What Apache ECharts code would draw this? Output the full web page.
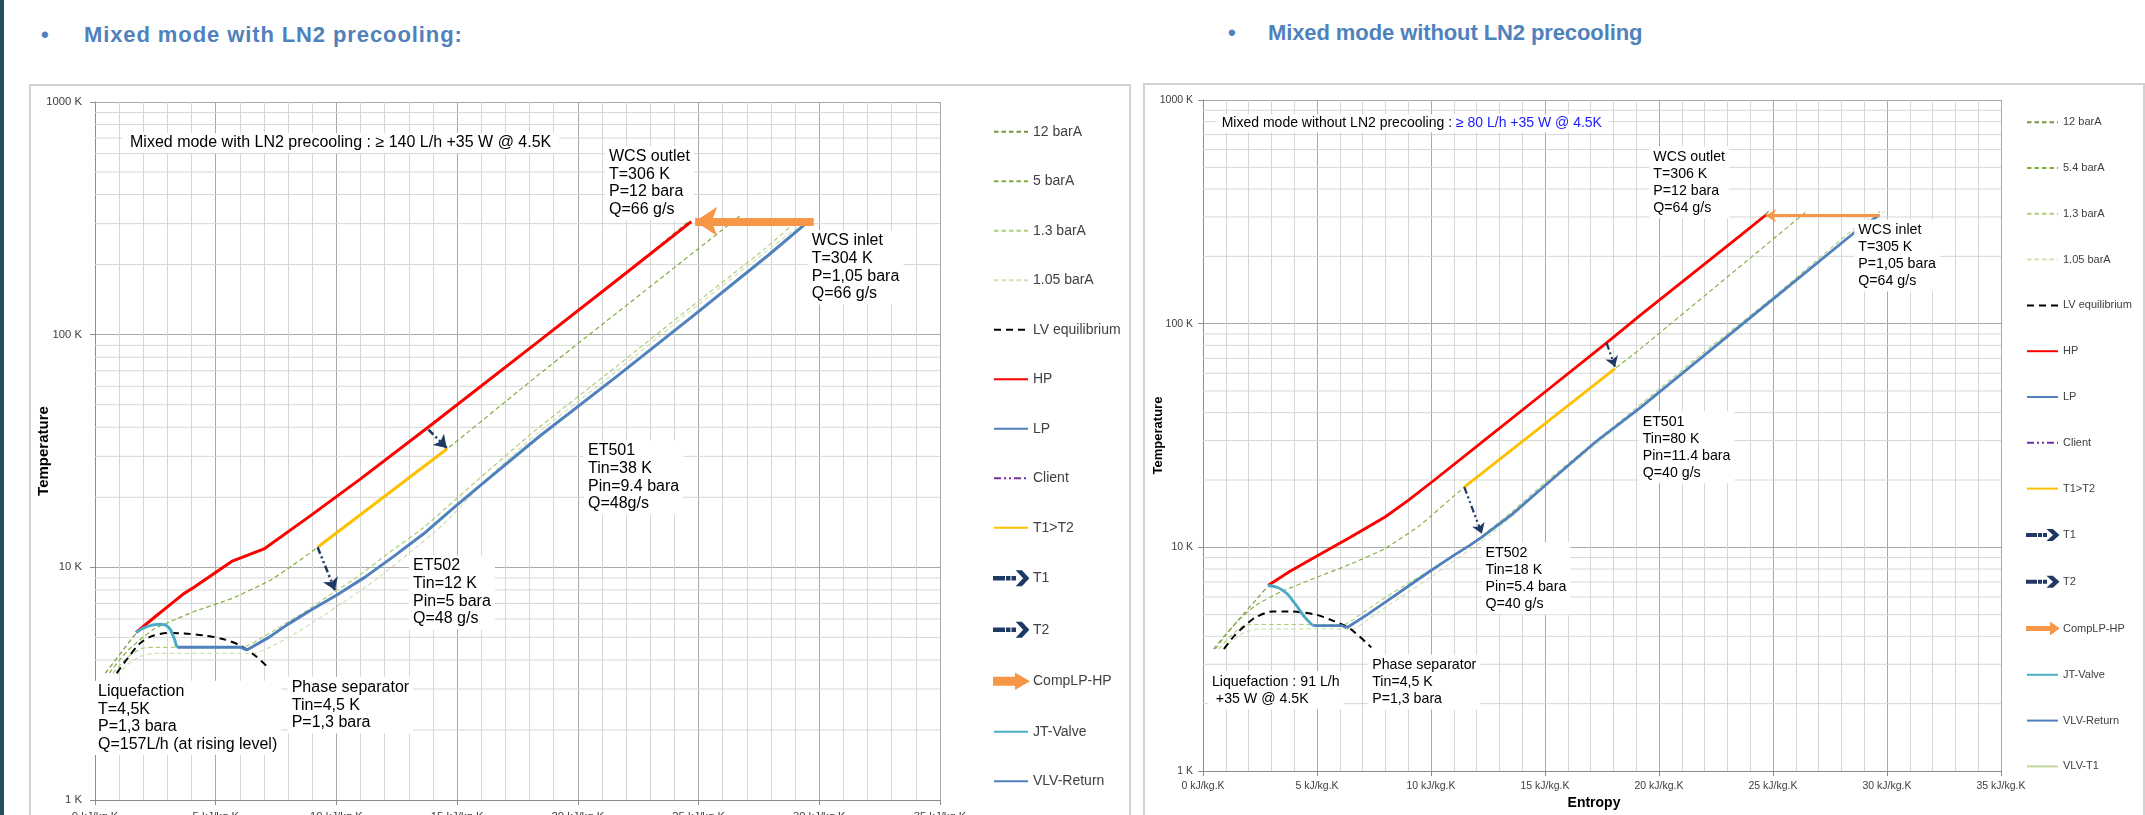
<!DOCTYPE html>
<html>
<head>
<meta charset="utf-8">
<title>Mixed mode T-s diagrams</title>
<script src="https://cdn.jsdelivr.net/npm/echarts/dist/echarts.min.js"></script>
<style>
  html, body { margin: 0; padding: 0; width: 2145px; height: 815px; overflow: hidden; background: #fff;
               font-family: "Liberation Sans", Arial, sans-serif; }
  .edge { position: absolute; left: 0; top: 0; width: 4px; height: 815px; background: #24505c; }
  .box { position: absolute; border: 2px solid #d2d2d2; box-sizing: border-box; }
  .head { position: absolute; color: #4f81bd; font-weight: bold; font-size: 22px; line-height: 26px;
          white-space: nowrap; }
  .chart { position: absolute; }
</style>
</head>
<body>
<div class="edge"></div>
<div class="head" style="left:41px;top:22px">•</div>
<div class="head" style="left:84px;top:22px;letter-spacing:0.9px">Mixed mode with LN2 precooling:</div>
<div class="head" style="left:1228px;top:20px">•</div>
<div class="head" style="left:1268px;top:20px;letter-spacing:-0.1px">Mixed mode without LN2 precooling</div>

<div class="box" style="left:29px;top:84px;width:1102px;height:800px"></div>
<div class="box" style="left:1143px;top:83px;width:1002px;height:800px"></div>
<div id="chartL" class="chart" style="left:29px;top:84px;width:1101px;height:760px"></div>
<div id="chartR" class="chart" style="left:1143px;top:83px;width:1001px;height:760px"></div>

<script>
// ---------- axis ticks / units ----------
const X_MIN = 0, X_MAX = 35, X_STEP = 5;
const T_MIN = 1, T_MAX = 1000;
const X_UNIT = ' kJ/kg.K';
const T_UNIT = ' K';
const MINOR_T = [2, 3, 4, 5, 6, 7, 8, 9, 20, 30, 40, 50, 60, 70, 80, 90, 200, 300, 400, 500, 600, 700, 800, 900];

// ---------- with LN2 precooling : [entropy kJ/kg.K, temperature K] ----------
const L_P12 = [[0.43,3.51],[1.06,4.27],[1.70,5.2],[2.49,6.1],[3.68,7.7],[5.66,10.6],[7.0,12.0],[8.83,16.4],[11.0,24.0],[14.0,41.5],[18.4,94],[21.6,171],[24.86,323]];
const L_P5 = [[0.59,3.51],[1.0,3.98],[1.38,4.41],[2.01,5.03],[2.49,5.47],[3.3,5.95],[4.07,6.44],[5.66,7.34],[7.24,8.78],[8.19,10.2],[9.22,12.2],[14.6,32.4],[18.43,68],[26.7,323]];
const L_P13 = [[0.74,3.51],[1.2,3.95],[1.54,4.27],[2.0,4.5],[2.4,4.53],[6.1,4.53],[6.8,4.9],[7.6,5.5],[8.6,6.35],[9.6,7.45],[10.8,9.0],[12.2,11.6],[13.6,14.8],[16.0,24.5],[18.2,38.5],[21.3,69],[24.5,127],[27.7,232],[29.3,323]];
const L_P105 = [[0.9,3.45],[1.4,3.85],[1.85,4.14],[2.3,4.25],[2.6,4.27],[6.6,4.27],[7.4,4.62],[8.3,5.2],[9.3,6.05],[10.4,7.2],[11.6,8.8],[13.0,11.5],[14.4,15.2],[16.2,23.8],[18.3,37.5],[21.4,67],[24.6,125],[27.8,228],[29.7,323]];
const L_LV = [[0.9,3.51],[1.38,4.1],[1.85,4.7],[2.33,5.05],[3.0,5.22],[3.7,5.2],[4.5,5.1],[5.3,4.92],[6.0,4.62],[6.6,4.2],[7.16,3.72]];
const L_HP = [[1.70,5.25],[2.49,6.13],[3.10,6.9],[3.68,7.71],[4.07,8.17],[5.66,10.6],[7.0,12.0],[8.83,16.4],[11.0,24.0],[14.0,41.5],[18.4,94],[21.6,171],[24.7,306]];
const L_LP = [[6.29,4.41],[7.2,5.0],[8.0,5.7],[9.0,6.6],[10.0,7.59],[11.2,9.1],[12.4,11.2],[13.6,13.9],[14.9,18.2],[16.2,23.6],[18.4,36.5],[21.6,66],[24.8,121],[27.9,220],[29.5,304]];
const L_T1T2 = [[9.22,12.2],[14.6,32.4]];
const L_T1 = [[13.81,39.1],[14.57,32.6]];
const L_T2 = [[9.22,12.2],[9.94,7.97]];
const L_COMP = [[29.77,307],[24.86,307]];
const L_JT = [[1.70,5.25],[2.0,5.48],[2.4,5.66],[2.73,5.70],[2.95,5.62],[3.12,5.4],[3.28,4.95],[3.36,4.65],[3.41,4.53]];
const L_VLV = [[3.41,4.53],[6.05,4.53],[6.29,4.41]];

// ---------- without LN2 precooling ----------
const R_P12 = [[0.46,3.51],[1.08,4.17],[1.85,5.13],[2.4,5.95],[2.85,6.69],[3.8,7.75],[4.92,9.0],[6.46,11.0],[8.0,13.6],[10.15,19.9],[15.0,49.5],[19.17,109],[22.09,188],[24.82,318]];
const R_P54 = [[0.54,3.51],[1.0,4.05],[1.54,4.7],[2.31,5.5],[3.38,6.3],[4.92,7.3],[6.46,8.4],[8.0,9.9],[9.54,12.6],[11.46,18.6],[18.07,63],[19.17,77],[26.48,318]];
const R_P13 = [[0.69,3.51],[1.38,4.17],[1.85,4.5],[2.3,4.52],[6.2,4.52],[7.0,5.1],[8.0,5.98],[9.0,6.9],[10.0,7.94],[12.0,10.8],[13.5,14.3],[15.0,19.5],[19.0,42],[22.0,75],[25.0,131],[28.4,258],[29.7,318]];
const R_P105 = [[0.85,3.51],[1.69,4.1],[2.31,4.3],[2.7,4.32],[6.6,4.32],[7.3,4.8],[8.0,5.4],[9.0,6.3],[10.0,7.36],[11.0,8.7],[12.2,10.6],[13.6,13.9],[15.2,19.6],[19.2,42],[22.1,74],[25.1,129],[28.6,257],[29.91,318]];
const R_LV = [[0.92,3.51],[1.38,4.03],[1.85,4.47],[2.31,4.87],[3.08,5.17],[3.69,5.17],[4.92,5.01],[5.69,4.7],[6.46,4.32],[7.38,3.57]];
const R_HP = [[2.85,6.75],[3.8,7.8],[4.92,9.05],[6.46,11.1],[8.0,13.7],[9.0,16.2],[10.15,20.0],[12.5,31],[15.0,49.5],[17.7,82],[19.17,109],[22.09,188],[23.55,247],[24.69,306]];
const R_LP = [[6.31,4.37],[7.2,5.0],[8.0,5.69],[9.0,6.7],[10.0,7.88],[11.0,9.2],[11.7,10.2],[12.23,11.1],[13.54,14.0],[15.23,19.8],[17.2,29.5],[19.17,42],[22.09,73.7],[25.01,129],[28.52,253],[29.6,303]];
const R_T1T2 = [[11.46,18.6],[18.07,63]];
const R_T1 = [[17.7,82],[18.07,64.2]];
const R_T2 = [[11.46,18.6],[12.23,11.5]];
const R_COMP = [[29.69,304],[24.69,304]];
const R_JT = [[2.85,6.75],[3.3,6.6],[3.69,6.2],[3.95,5.75],[4.15,5.4],[4.46,4.87],[4.77,4.52],[4.85,4.47]];
const R_VLV = [[4.85,4.47],[6.08,4.47],[6.31,4.37]];
const R_VLVT1 = [];
const CLIENT = [];

// ---------- styles ----------
const COL = {
  p12: '#76923c', p5: '#7fae3f', p13: '#afcd78', p105: '#d0e2b2', lv: '#000000',
  hp: '#ff0000', lp: '#4f81bd', client: '#7030a0', t12: '#ffc000', arrow: '#1f3864',
  comp: '#f79646', jt: '#4bacc6', vlv: '#4f81bd', vlvt1: '#c3d69b'
};
const DASH_S = [4.5, 3];
const DASH_LV = [7, 5];
const DASH_DOT2 = [7, 3, 2, 3, 2, 3];
const FONT = '"Liberation Sans", Arial, sans-serif';

function line(name, data, color, width, type, z, smooth) {
  return {
    type: 'line', name, data, z, smooth: smooth || false,
    showSymbol: false, symbol: 'none', silent: true, animation: false, clip: true,
    lineStyle: { color, width, type }, itemStyle: { color }
  };
}
function arrow(name, data, color, width, type, headSize, z) {
  return {
    type: 'lines', name, coordinateSystem: 'cartesian2d', polyline: false, z,
    silent: true, animation: false,
    symbol: ['none', 'arrow'], symbolSize: headSize,
    data: [{ coords: data }],
    lineStyle: { color, width, type, opacity: 1, curveness: 0 }, itemStyle: { color }
  };
}
function minorGrid() {
  return {
    type: 'custom', name: 'minor-grid', silent: true, animation: false, z: 1,
    data: MINOR_T.map(v => [X_MIN, v]),
    renderItem: (params, api) => {
      const a = api.coord([X_MIN, api.value(1)]);
      const b = api.coord([X_MAX, api.value(1)]);
      return { type: 'line', shape: { x1: a[0], y1: a[1], x2: b[0], y2: b[1] },
               style: { stroke: '#d6d6d6', lineWidth: 1 } };
    }
  };
}
function note(left, top, text, size, lh, pad) {
  return {
    type: 'text', left, top, z: 100, silent: true,
    style: { text, font: size + 'px ' + FONT, fill: '#000', lineHeight: lh,
             backgroundColor: '#fff', padding: pad || [2, 4] }
  };
}
function iconItem(name, icon, color) {
  return { name, icon, itemStyle: { color, opacity: 1 } };
}

function buildOption(L) {
  return {
    animation: false,
    textStyle: { fontFamily: FONT },
    grid: { left: L.grid[0], top: L.grid[1], width: L.grid[2], height: L.grid[3],
            containLabel: false, outerBoundsMode: 'none' },
    xAxis: {
      type: 'value', min: X_MIN, max: X_MAX, interval: X_STEP,
      name: L.xName || '', nameLocation: 'middle', nameGap: L.xNameGap || 25, nameMoveOverlap: false,
      nameTextStyle: { fontWeight: 'bold', fontSize: 14, color: '#000', padding: [0, 16, 0, 0] },
      axisLine: { show: true, onZero: false, lineStyle: { color: '#8c8c8c', width: 1 } },
      axisTick: { show: true, length: 5, lineStyle: { color: '#8c8c8c' } },
      axisLabel: { formatter: v => v + X_UNIT, fontSize: L.tickFont, color: '#404040', margin: L.xMargin },
      splitLine: { show: true, lineStyle: { color: '#a9a9a9', width: 1 } },
      minorTick: { show: false, splitNumber: 5 },
      minorSplitLine: { show: true, lineStyle: { color: '#d6d6d6', width: 1 } }
    },
    yAxis: {
      type: 'log', logBase: 10, min: T_MIN, max: T_MAX,
      name: 'Temperature', nameLocation: 'middle', nameRotate: 90, nameGap: L.yNameGap, nameMoveOverlap: false,
      nameTextStyle: { fontWeight: 'bold', fontSize: L.yNameFont, color: '#000' },
      axisLine: { show: true, lineStyle: { color: '#8c8c8c', width: 1 } },
      axisTick: { show: true, length: 5, lineStyle: { color: '#8c8c8c' } },
      axisLabel: { formatter: v => Math.round(v) + T_UNIT, fontSize: L.tickFont, color: '#404040', margin: L.yMargin },
      splitLine: { show: true, lineStyle: { color: '#a9a9a9', width: 1 } }
    },
    legend: {
      orient: 'vertical', left: L.legend[0], top: L.legend[1], padding: 0,
      itemWidth: L.legendIcon[0], itemHeight: L.legendIcon[1], itemGap: L.legendGap,
      selectedMode: false,
      itemStyle: { opacity: 0 },
      textStyle: { fontSize: L.legendFont, color: '#404040', lineHeight: L.legendIcon[1] },
      data: L.legendData
    },
    graphic: L.notes,
    series: L.series
  };
}

// ---------- with LN2 precooling ----------
const ICON_T_L = 'path://M0,5.8h10v2.4h-10z M13,5.8h2.5v2.4h-2.5z M18.5,5.8h2.5v2.4h-2.5z M24,0h3.5l6.5,7l-6.5,7h-3.5l6.5,-7z';
const ICON_C_L = 'path://M0,3.5h22v-3.5l12,7l-12,7v-3.5h-22z';
const layoutL = {
  grid: [66, 18, 845, 698], tickFont: 11.3, xMargin: 11, yMargin: 13,
  yNameGap: 44, yNameFont: 15,
  legend: [964, 40.7], legendIcon: [34, 14], legendGap: 35.5, legendFont: 14,
  legendData: [
    { name: '12 barA' }, { name: '5 barA' }, { name: '1.3 barA' }, { name: '1.05 barA' },
    { name: 'LV equilibrium' }, { name: 'HP' }, { name: 'LP' }, { name: 'Client' }, { name: 'T1>T2' },
    iconItem('T1', ICON_T_L, COL.arrow), iconItem('T2', ICON_T_L, COL.arrow),
    iconItem('CompLP-HP', ICON_C_L, COL.comp),
    { name: 'JT-Valve' }, { name: 'VLV-Return' }
  ],
  notes: [
    note(93, 49, 'Mixed mode with LN2 precooling : ≥ 140 L/h +35 W @ 4.5K', 16, 20, [0, 8]),
    note(576, 61.9, 'WCS outlet\nT=306 K\nP=12 bara\nQ=66 g/s', 16, 17.6),
    note(778.7, 146.2, 'WCS inlet\nT=304 K\nP=1,05 bara\nQ=66 g/s', 16, 17.6),
    note(555, 356.2, 'ET501\nTin=38 K\nPin=9.4 bara\nQ=48g/s', 16, 17.6),
    note(380, 471.2, 'ET502\nTin=12 K\nPin=5 bara\nQ=48 g/s', 16, 17.6),
    note(65, 596.7, 'Liquefaction\nT=4,5K\nP=1,3 bara\nQ=157L/h (at rising level)', 16, 17.6),
    note(258.7, 592.7, 'Phase separator\nTin=4,5 K\nP=1,3 bara', 16, 17.6)
  ],
  series: [
    minorGrid(),
    line('12 barA', L_P12, COL.p12, 1.2, DASH_S, 3, 0.15),
    line('5 barA', L_P5, COL.p5, 1.2, DASH_S, 3, 0.15),
    line('1.3 barA', L_P13, COL.p13, 1.2, DASH_S, 3, 0.15),
    line('1.05 barA', L_P105, COL.p105, 1.2, DASH_S, 3, 0.15),
    line('LV equilibrium', L_LV, COL.lv, 2, DASH_LV, 4, 0.3),
    line('HP', L_HP, COL.hp, 3, 'solid', 6),
    line('LP', L_LP, COL.lp, 3, 'solid', 6),
    line('Client', CLIENT, COL.client, 3, DASH_DOT2, 6),
    line('T1>T2', L_T1T2, COL.t12, 3, 'solid', 6),
    arrow('T1', L_T1, COL.arrow, 2.5, DASH_DOT2, 12, 8),
    arrow('T2', L_T2, COL.arrow, 2.5, DASH_DOT2, 12, 8),
    arrow('CompLP-HP', L_COMP, COL.comp, 8, 'solid', 22, 8),
    line('JT-Valve', L_JT, COL.jt, 3, 'solid', 7, 0.3),
    line('VLV-Return', L_VLV, COL.vlv, 3, 'solid', 7)
  ]
};

// ---------- without LN2 precooling ----------
const ICON_T_R = 'path://M0,4h9v2h-9z M12,4h2h0v2h-2z M17,4h2v2h-2z M22,0h3.5l5.5,5l-5.5,5h-3.5l5.5,-5z';
const ICON_C_R = 'path://M0,3.5h24v-3.5l7,5l-7,5v-3.5h-24z';
const layoutR = {
  grid: [60, 17, 798, 671], tickFont: 10.5, xMargin: 10, yMargin: 10,
  yNameGap: 38, yNameFont: 13, xName: 'Entropy', xNameGap: 25,
  legend: [883, 33.7], legendIcon: [31, 10], legendGap: 34.8, legendFont: 11,
  legendData: [
    { name: '12 barA' }, { name: '5.4 barA' }, { name: '1.3 barA' }, { name: '1.05 barA' },
    { name: 'LV equilibrium' }, { name: 'HP' }, { name: 'LP' }, { name: 'Client' }, { name: 'T1>T2' },
    iconItem('T1', ICON_T_R, COL.arrow), iconItem('T2', ICON_T_R, COL.arrow),
    iconItem('CompLP-HP', ICON_C_R, COL.comp),
    { name: 'JT-Valve' }, { name: 'VLV-Return' }, { name: 'VLV-T1' }
  ],
  notes: [
    {
      type: 'text', left: 72.7, top: 31.3, z: 100, silent: true,
      style: {
        text: '{a|Mixed mode without LN2 precooling : }{b|≥ 80 L/h +35 W @ 4.5K}',
        font: '14px ' + FONT, backgroundColor: '#fff', padding: [0, 6], lineHeight: 18,
        rich: { a: { fill: '#000', font: '14px ' + FONT }, b: { fill: '#1a1aff', font: '14px ' + FONT } }
      }
    },
    note(506.3, 63.2, 'WCS outlet\nT=306 K\nP=12 bara\nQ=64 g/s', 14.2, 17),
    note(711.3, 136.5, 'WCS inlet\nT=305 K\nP=1,05 bara\nQ=64 g/s', 14.2, 17),
    note(495.7, 328.2, 'ET501\nTin=80 K\nPin=11.4 bara\nQ=40 g/s', 14.2, 17),
    note(338.5, 459.2, 'ET502\nTin=18 K\nPin=5.4 bara\nQ=40 g/s', 14.2, 17),
    note(64.9, 588.2, 'Liquefaction : 91 L/h\n +35 W @ 4.5K', 14.2, 17),
    note(225.2, 571.5, 'Phase separator\nTin=4,5 K\nP=1,3 bara', 14.2, 17)
  ],
  series: [
    minorGrid(),
    line('12 barA', R_P12, COL.p12, 1.1, DASH_S, 3, 0.15),
    line('5.4 barA', R_P54, COL.p5, 1.1, DASH_S, 3, 0.15),
    line('1.3 barA', R_P13, COL.p13, 1.1, DASH_S, 3, 0.15),
    line('1.05 barA', R_P105, COL.p105, 1.1, DASH_S, 3, 0.15),
    line('LV equilibrium', R_LV, COL.lv, 2, DASH_LV, 4, 0.3),
    line('HP', R_HP, COL.hp, 2.8, 'solid', 6),
    line('LP', R_LP, COL.lp, 2.8, 'solid', 6),
    line('Client', CLIENT, COL.client, 2.8, DASH_DOT2, 6),
    line('T1>T2', R_T1T2, COL.t12, 2.8, 'solid', 6),
    arrow('T1', R_T1, COL.arrow, 2.2, DASH_DOT2, 10, 8),
    arrow('T2', R_T2, COL.arrow, 2.2, DASH_DOT2, 10, 8),
    arrow('CompLP-HP', R_COMP, COL.comp, 3, 'solid', 10, 8),
    line('JT-Valve', R_JT, COL.jt, 2.8, 'solid', 7, 0.3),
    line('VLV-Return', R_VLV, COL.vlv, 2.8, 'solid', 7),
    line('VLV-T1', R_VLVT1, COL.vlvt1, 2.5, 'solid', 5)
  ]
};

const chartL = echarts.init(document.getElementById('chartL'), null, { renderer: 'canvas' });
chartL.setOption(buildOption(layoutL));
const chartR = echarts.init(document.getElementById('chartR'), null, { renderer: 'canvas' });
chartR.setOption(buildOption(layoutR));
</script>
</body>
</html>
